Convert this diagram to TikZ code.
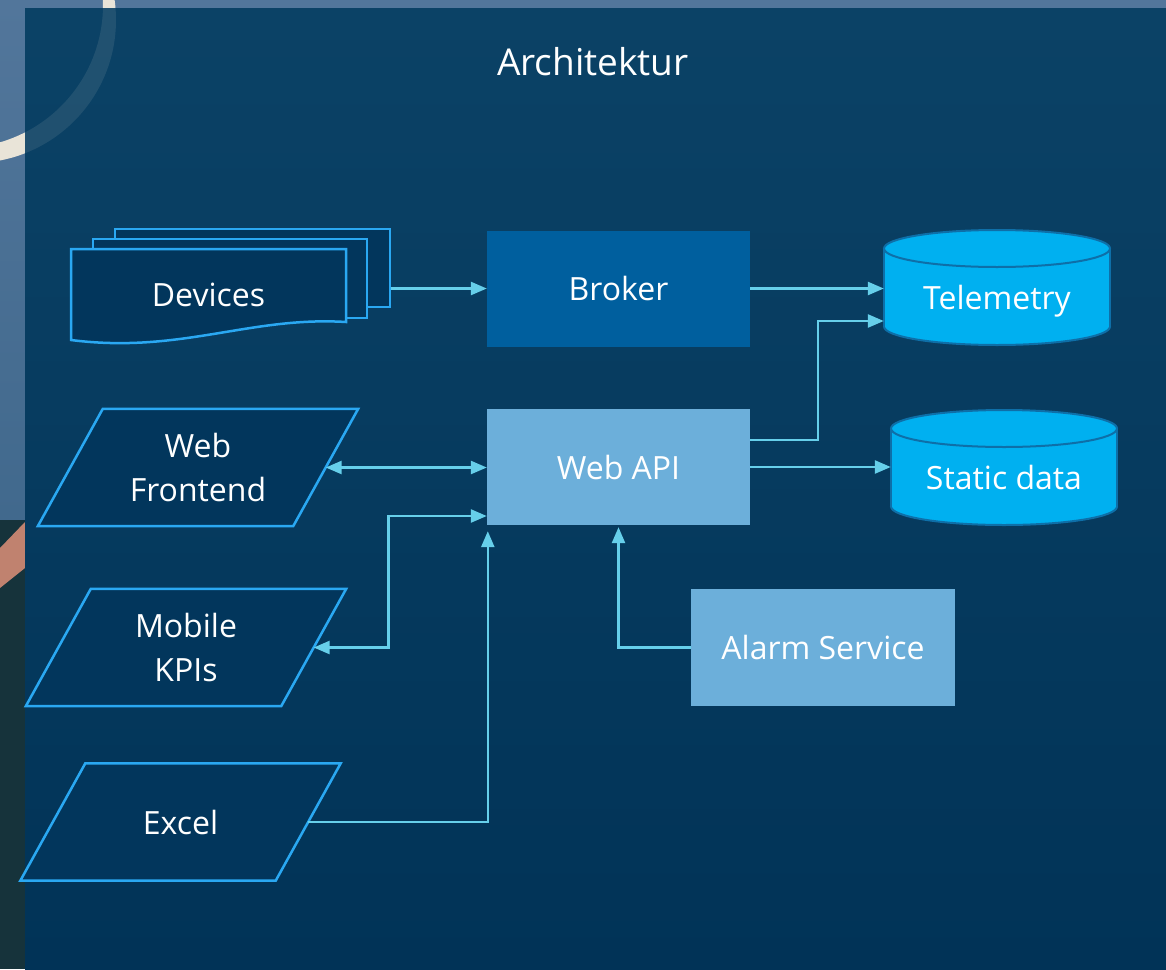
\documentclass[tikz,border=0pt]{standalone}
\usepackage{fontspec}
\setmainfont{Open Sans}
\usepackage{tikz}
\usetikzlibrary{arrows.meta,backgrounds}
\definecolor{paneltop}{HTML}{0B4266}
\definecolor{panelbot}{HTML}{013357}
\definecolor{phototop}{HTML}{52769B}
\definecolor{photomid}{HTML}{41698D}
\definecolor{photobot}{HTML}{16333B}
\definecolor{mountain}{HTML}{C0826F}
\definecolor{mooncol}{HTML}{E9E4D8}
\definecolor{edgeblue}{HTML}{2AA8F2}
\definecolor{paper}{HTML}{02365C}
\definecolor{brokerblue}{HTML}{005F9E}
\definecolor{apiblue}{HTML}{6CAFDA}
\definecolor{dbfill}{HTML}{00B0F0}
\definecolor{dbedge}{HTML}{0E6FA8}
\definecolor{linkblue}{HTML}{66CFEA}

\begin{document}
\begin{tikzpicture}
	[x=1pt,y=-1pt,
	 >={Triangle[length=16pt,width=13pt]},
	 every node/.style={text=white,font=\fontsize{32}{44}\selectfont,align=center},
	 page/.style={draw=edgeblue,fill=paper,line width=2.5pt,inner sep=0pt},
	 inout/.style={minimum width=255pt,minimum height=117pt,inner sep=0pt},
	 box/.style={minimum width=263pt,minimum height=116pt,inner sep=0pt},
	 dblabel/.style={minimum width=226pt,inner sep=0pt},
	 link/.style={draw=linkblue,line width=2.5pt}]
	\useasboundingbox (0,0) rectangle (1166,969);
	\begin{pgfonlayer}{background}
	\fill[top color=phototop,bottom color=photomid] (0,0) rectangle (25,520);
	\fill[photobot] (0,520) rectangle (25,969);
	\fill[phototop] (0,0) rectangle (1166,8);
	\fill[mountain] (0,548) -- (25,522) -- (25,568) -- (0,588) -- cycle;
	\begin{scope}
		\clip (0,0) -- (1166,0) -- (1166,8) -- (25,8) -- (25,969) -- (0,969) -- cycle;
		\fill[mooncol,even odd rule] (-27,20) circle (143) (-40,5) circle (143);
	\end{scope}
	\fill[top color=paneltop,bottom color=panelbot] (25,8) rectangle (1166,969);
	\fill[mooncol,opacity=.1,even odd rule] (-27,20) circle (143) (-40,5) circle (143);
	\end{pgfonlayer}
	
	\node (title) at (593,62) {\fontsize{37}{44}\selectfont Architektur};
	
	\node[page,minimum width=275pt,minimum height=78pt] (dev3) at (252.5,268) {};
	\node[page,minimum width=274pt,minimum height=79pt] (dev2) at (230,278.5) {};
	\filldraw[draw=edgeblue,fill=paper,line width=2.5pt]
		(71,249) -- (346,249) -- (346,322) .. controls (250,316) and (180,354) .. (71,340) -- cycle;
	\node (devices) at (208.5,295) {Devices};
	
	\node[box,fill=brokerblue] (broker) at (618.5,288.5) {Broker};
	\node[box,fill=apiblue] (webapi) at (618.5,467) {Web API};
	\node[box,fill=apiblue,minimum width=264pt,minimum height=117pt] (alarm) at (823,647.5) {Alarm Service};
	
	\node[inout] (front) at (198,467.5) {Web\\Frontend};
	\node[inout] (mobile) at (186,647.5) {Mobile\\KPIs};
	\node[inout] (excel) at (180.5,822) {Excel};
	\begin{pgfonlayer}{background}
	\foreach \nm in {front,mobile,excel}
	\filldraw[draw=edgeblue,fill=paper,line width=2.5pt]
		([xshift=32.5pt]\nm.north west) -- ([xshift=32.5pt]\nm.north east)
		-- ([xshift=-32.5pt]\nm.south east) -- ([xshift=-32.5pt]\nm.south west) -- cycle;
	\end{pgfonlayer}
	
	\foreach \cx/\yt/\yb in {997/230/345,1004/410/525}{
		\filldraw[fill=dbfill,draw=dbedge,line width=2pt] (\cx,\yb-18.5) ellipse [x radius=113,y radius=18.5];
		\fill[dbfill] (\cx-113,\yt+18.5) rectangle (\cx+113,\yb-18.5);
		\draw[dbedge,line width=2pt] (\cx-113,\yt+18.5) -- (\cx-113,\yb-18.5)
			(\cx+113,\yt+18.5) -- (\cx+113,\yb-18.5);
		\filldraw[fill=dbfill,draw=dbedge,line width=2pt] (\cx,\yt+18.5) ellipse [x radius=113,y radius=18.5];
	}
	\node[dblabel] (tele) at (997,301) {Telemetry};
	\node[dblabel] (stat) at (1004,477) {Static data};
	
	\draw[link,->] (dev3.east |- broker.west) -- (broker.west);
	\foreach \from/\to in {broker/tele,webapi/stat}
	\draw[link,->] (\from.east) -- (\from.east -| \to.west);
	\draw[link,->] ([yshift=27pt]webapi.east) -- ++(68,0) |- ([yshift=-20pt]tele.west);
	\draw[link,<->] (front.east) -- (front.east -| webapi.west);
	\draw[link,<->] (mobile.east) -- ++(75,0) |- ([yshift=-49pt]webapi.west);
	\draw[link,->,shorten >=6pt] (excel.east) -| ([xshift=1pt]webapi.south west);
	\draw[link,->,shorten >=2pt] (alarm.west) -| (webapi.south);
\end{tikzpicture}
\end{document}
